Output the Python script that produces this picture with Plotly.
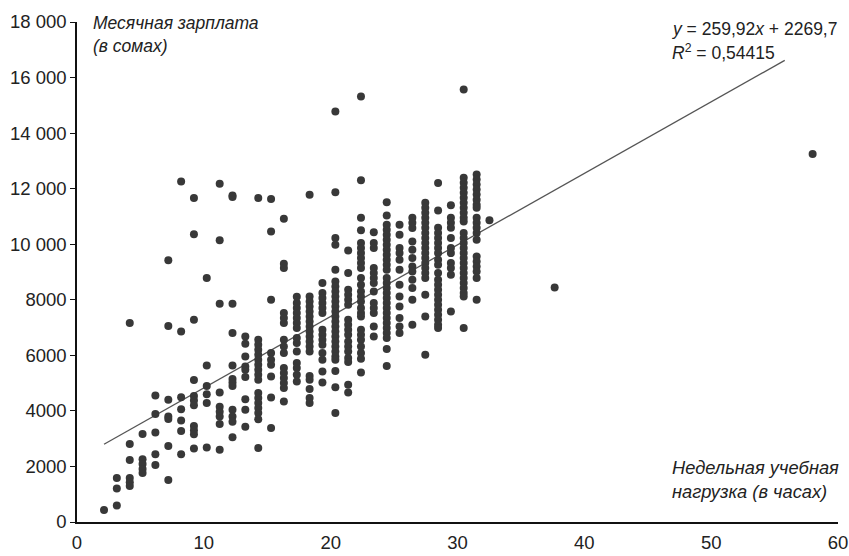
import plotly.graph_objects as go

# Weekly teaching load (hours) for each column of points
col_hours = [2.13, 3.14, 4.16, 5.17, 6.18, 7.20, 8.21, 9.22, 10.23, 11.25,
             12.26, 13.27, 14.29, 15.30, 16.31, 17.33, 18.34, 19.35, 20.37, 21.38,
             22.39, 23.40, 24.42, 25.43, 26.44, 27.46, 28.47, 29.48, 30.49, 31.51,
             32.52]

# Monthly salary (soms) for the points in each column
col_salaries = [
    [430],
    [1580, 1210, 590],
    [7160, 2810, 2230, 1580, 1430, 1300],
    [3170, 2260, 2090, 1910, 1760],
    [4550, 3890, 3220, 2440, 2050],
    [9420, 7060, 4400, 3800, 3710, 2740, 1510],
    [12260, 6860, 4490, 4060, 3650, 3280, 2440],
    [11660, 10360, 7280, 5110, 4540, 4370, 4200, 3460, 3300, 3160, 2650],
    [8780, 5630, 4900, 4600, 4280, 2680],
    [12180, 10140, 7860, 4660, 4150, 3970, 3800, 3530, 2600],
    [11750, 11700, 7860, 6800, 5630, 5150, 5020, 4900, 4040, 3800, 3610, 3050],
    [6680, 6420, 5960, 5600, 5480, 5220, 4420, 4040, 3430],
    [11660, 6560, 6380, 6200, 6020, 5840, 5660, 5480, 5300, 5120, 4640, 4460,
     4280, 4100, 3920, 3700, 2660],
    [11630, 10460, 8000, 6080, 5840, 5660, 5240, 4480, 3380],
    [10920, 9300, 9140, 7520, 7340, 7160, 6560, 6320, 6080, 5540, 5360, 5180,
     5000, 4820, 4340],
    [8110, 7880, 7700, 7520, 7340, 7160, 6980, 6620, 6440, 6140, 5720, 5540,
     5300, 5060],
    [11780, 8120, 7940, 7760, 7580, 7400, 7220, 7040, 6860, 6680, 6500, 6320,
     6140, 5260, 5120, 4790, 4460, 4280],
    [8600, 8240, 8060, 7880, 7700, 7520, 6920, 6740, 6560, 6380, 6080, 5840,
     5420, 5020],
    [14780, 11870, 10220, 9980, 9080, 8660, 8480, 8300, 8120, 7940, 7760, 7580,
     7400, 7220, 7040, 6860, 6680, 6500, 6320, 6140, 5960, 5840, 5440, 4850, 3920],
    [9770, 8960, 8360, 8180, 8000, 7820, 7280, 7100, 6920, 6740, 6500, 6320,
     6140, 5900, 5760, 4940, 4660],
    [15320, 12300, 10950, 10500, 10040, 9860, 9680, 9500, 9320, 9140, 8780, 8540,
     8300, 8120, 7940, 7700, 7520, 7400, 6920, 6740, 6560, 6320, 6080, 5880, 5380],
    [10430, 10040, 9860, 9140, 8960, 8780, 8600, 8300, 7880, 7700, 7520, 7040, 6680],
    [11510, 11030, 10700, 10520, 10340, 10160, 9980, 9800, 9620, 9440, 9260, 9080,
     8780, 8600, 8420, 8240, 8060, 7880, 7700, 7520, 7340, 7160, 6980, 6800, 6620,
     6230, 5620],
    [10700, 10340, 9860, 9680, 9440, 9080, 8540, 8120, 7760, 7340, 7040, 6800],
    [10950, 10770, 10580, 10100, 9800, 9500, 9200, 9020, 8720, 8420, 8000, 7100],
    [11490, 11310, 11130, 10950, 10770, 10590, 10400, 10220, 10040, 9860, 9680, 9500,
     9320, 9140, 8960, 8780, 8180, 7400, 6020],
    [12200, 11210, 10590, 10400, 10220, 10040, 9860, 9680, 9440, 9260, 8960, 8720,
     8540, 8360, 8180, 8000, 7820, 7640, 7460, 7280, 7100, 6980],
    [11400, 10950, 10770, 10590, 10220, 9860, 9680, 9320, 9140, 8900, 7580],
    [15570, 12390, 12210, 12030, 11850, 11670, 11490, 11310, 11130, 10950, 10820,
     10400, 10220, 10040, 9860, 9680, 9500, 9320, 9140, 8960, 8780, 8600, 8420,
     8240, 8120, 6980],
    [12510, 12330, 12150, 11970, 11790, 11600, 11420, 11310, 10950, 10770, 10590,
     10400, 10160, 9560, 9380, 9200, 9020, 8780, 8000],
    [10860],
]

# Isolated points far to the right
outlier_hours = [37.66, 58.0]
outlier_salaries = [8440, 13250]

# Linear trend line end points
trend_hours = [2.13, 55.8]
trend_salaries = [2800, 16620]

y_tickvals = [0, 2000, 4000, 6000, 8000, 10000, 12000, 14000, 16000, 18000]
y_ticktext = ["0", "2000", "4000", "6000", "8000", "10 000", "12 000", "14 000",
              "16 000", "18 000"]
x_tickvals = [0, 10, 20, 30, 40, 50, 60]

xs, ys = [], []
for h, vals in zip(col_hours, col_salaries):
    for v in vals:
        xs.append(h)
        ys.append(v)
xs += outlier_hours
ys += outlier_salaries

FONT = "Liberation Sans, Arial, sans-serif"
TXT = "#222222"
DOT = "#383838"

fig = go.Figure()
fig.add_trace(go.Scatter(
    x=trend_hours, y=trend_salaries, mode="lines",
    line=dict(color="#555555", width=1.3), hoverinfo="skip", showlegend=False))
fig.add_trace(go.Scatter(
    x=xs, y=ys, mode="markers",
    marker=dict(size=8, color=DOT, line=dict(width=0)),
    showlegend=False))

fig.update_layout(
    width=849, height=556,
    margin=dict(l=77, r=11, t=22, b=34, autoexpand=False),
    paper_bgcolor="white", plot_bgcolor="white",
    font=dict(family=FONT, size=18, color=TXT),
    xaxis=dict(range=[0, 60], tickvals=x_tickvals, ticks="", showgrid=False,
               zeroline=False, showline=True, linecolor="#111111", linewidth=1.5,
               tickfont=dict(size=18.5, color=TXT), automargin=False,
               ticklabelstandoff=3, ticklabeloverflow="allow", fixedrange=True),
    yaxis=dict(range=[0, 18000], tickvals=y_tickvals, ticktext=y_ticktext,
               ticks="outside", ticklen=5, tickwidth=1.2, tickcolor="#111111",
               showgrid=False, zeroline=False, showline=True,
               linecolor="#111111", linewidth=1.5,
               tickfont=dict(size=18.5, color=TXT), automargin=False,
               ticklabeloverflow="allow", fixedrange=True),
    annotations=[
        dict(x=0.018, y=1.022, xref="paper", yref="paper", xanchor="left",
             yanchor="top", align="left", showarrow=False,
             text="<i>Месячная зарплата<br>(в сомах)</i>",
             font=dict(family=FONT, size=17.5, color=TXT)),
        dict(x=0.779, y=0.134, xref="paper", yref="paper", xanchor="left",
             yanchor="top", align="left", showarrow=False,
             text="<i>Недельная учебная<br>нагрузка (в часах)</i>",
             font=dict(family=FONT, size=18.3, color=TXT)),
        dict(x=0.779, y=1.010, xref="paper", yref="paper", xanchor="left",
             yanchor="top", align="left", showarrow=False,
             text="<i>y</i> = 259,92<i>x</i> + 2269,7",
             font=dict(family=FONT, size=17.5, color=TXT)),
        dict(x=0.779, y=0.966, xref="paper", yref="paper", xanchor="left",
             yanchor="top", align="left", showarrow=False,
             text="<i>R</i><sup>2</sup> = 0,54415",
             font=dict(family=FONT, size=17.5, color=TXT)),
    ],
)

# Remove the default page margin so the 849x556 figure fills the window exactly
fig.write_html(
    "out.html",
    config={"displayModeBar": False},
    post_script="document.body.style.margin='0';document.body.style.overflow='hidden';",
)
